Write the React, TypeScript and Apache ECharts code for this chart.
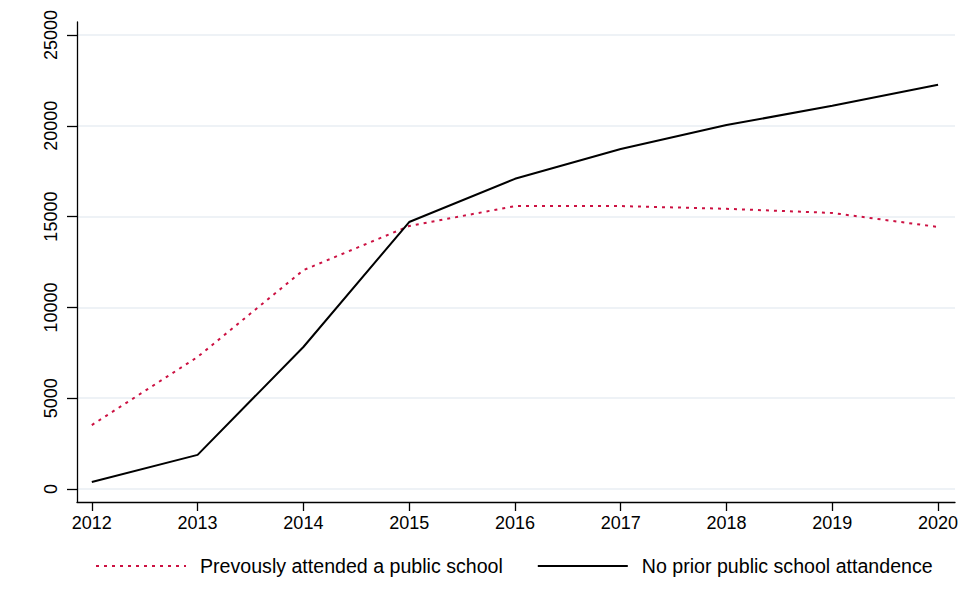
import React, { useEffect, useRef } from "react";
import * as echarts from "echarts";

const years = [2012, 2013, 2014, 2015, 2016, 2017, 2018, 2019, 2020];
const previouslyPublic = [3520, 7270, 12050, 14480, 15580, 15580, 15430, 15200, 14430];
const noPriorPublic = [390, 1880, 7820, 14700, 17080, 18720, 20040, 21100, 22260];
const yTicks = [0, 5000, 10000, 15000, 20000, 25000];

export default function App() {
  const ref = useRef<HTMLDivElement>(null);
  useEffect(() => {
    if (!ref.current) return;
    const chart = echarts.init(ref.current, null, { renderer: "svg" });
    const font = "'Liberation Sans', Arial, sans-serif";
    chart.setOption({
      animation: false,
      backgroundColor: "#ffffff",
      grid: { left: 77, right: 11, top: 22, bottom: 103, containLabel: false },
      xAxis: {
        type: "value",
        min: 2011.86,
        max: 2020.16,
        splitLine: { show: false },
        axisLine: { show: true, onZero: false, lineStyle: { color: "#000", width: 1.3 } },
        axisTick: { show: true, length: 9, lineStyle: { color: "#000", width: 1.3 }, customValues: years },
        axisLabel: {
          customValues: years,
          color: "#000",
          fontSize: 18,
          fontFamily: font,
          margin: 12,
          formatter: (v: number) => String(Math.round(v)),
        },
      },
      yAxis: {
        type: "value",
        min: -716,
        max: 25716,
        splitLine: { show: false },
        axisLine: { show: true, onZero: false, lineStyle: { color: "#000", width: 1.3 } },
        axisTick: { show: true, length: 10, lineStyle: { color: "#000", width: 1.3 }, customValues: yTicks },
        axisLabel: {
          customValues: yTicks,
          rotate: 90,
          color: "#000",
          fontSize: 18,
          fontFamily: font,
          margin: 17,
          formatter: (v: number) => String(Math.round(v)),
        },
      },
      legend: {
        top: 551,
        left: 90,
        itemWidth: 90,
        itemHeight: 10,
        itemGap: 34,
        itemStyle: { opacity: 0 },
        textStyle: { color: "#000", fontSize: 19.6, fontFamily: font, padding: [0, 0, 0, 9] },
        data: [
          { name: "Prevously attended a public school" },
          { name: "No prior public school attandence" },
        ],
      },
      series: [
        {
          type: "line",
          name: "Gridlines",
          data: [],
          z: 0,
          markLine: {
            silent: true,
            symbol: "none",
            z: 0,
            label: { show: false },
            lineStyle: { color: "#e8eef3", type: "solid", width: 1.5 },
            data: yTicks.map((v) => ({ yAxis: v })),
          },
        },
        {
          type: "line",
          name: "Prevously attended a public school",
          data: years.map((y, i) => [y, previouslyPublic[i]]),
          symbol: "none",
          lineStyle: { color: "#cc1142", width: 2, type: [3, 5] },
          itemStyle: { color: "#cc1142" },
          z: 5,
        },
        {
          type: "line",
          name: "No prior public school attandence",
          data: years.map((y, i) => [y, noPriorPublic[i]]),
          symbol: "none",
          lineStyle: { color: "#000000", width: 2 },
          itemStyle: { color: "#000000" },
          z: 5,
        },
      ],
    });
    return () => chart.dispose();
  }, []);
  return <div ref={ref} style={{ width: 966, height: 605, position: "absolute", left: 0, top: 0 }} />;
}
